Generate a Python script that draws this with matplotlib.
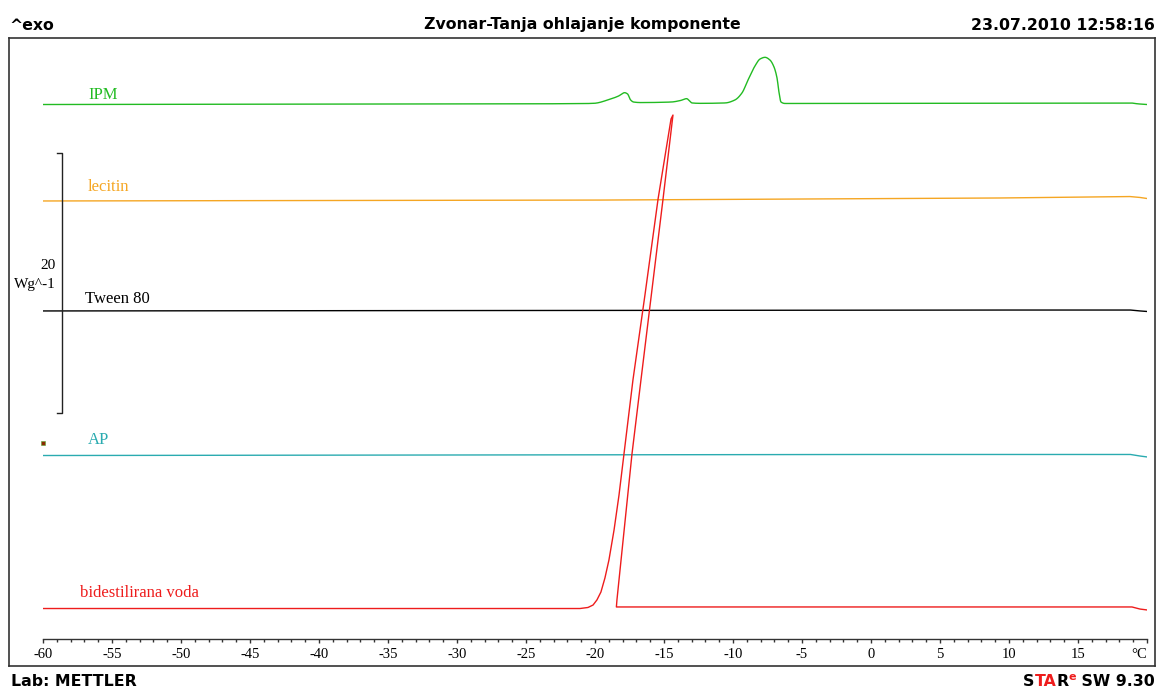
import matplotlib.pyplot as plt
import numpy as np

# DSC ohlajanje - krivulje (temperatura v °C, toplotni tok v W/g, ze zamaknjeno)
ipm_T = [-60, -30, -21, -20.1, -18.88, -18.30, -17.85, -17.64, -17.42, -17.2, -16.7,
         -14.5, -13.8, -13.36, -13.14, -12.97, -12.35, -10.58, -9.86, -9.35, -8.91,
         -8.41, -8.04, -7.68, -7.32, -7.03, -6.81, -6.67, -6.52, -6.23, 2.1, 18.77,
         19.35, 20]
ipm_Y = [38.73, 38.77, 38.80, 38.82, 39.15, 39.38, 39.64, 39.54, 39.08, 38.92, 38.88,
         38.92, 39.04, 39.18, 39.00, 38.85, 38.82, 38.85, 39.08, 39.62, 40.62,
         41.69, 42.23, 42.36, 42.15, 41.62, 40.77, 39.69, 38.92, 38.81, 38.82, 38.85,
         38.78, 38.73]

lecitin_T = [-60, -19.6, 9.35, 18.77, 19.49, 20]
lecitin_Y = [31.31, 31.38, 31.54, 31.65, 31.58, 31.50]

tween_T = [-60, 10, 18.8, 19.5, 20]
tween_Y = [22.85, 22.92, 22.92, 22.85, 22.81]

ap_T = [-60, 0, 18.8, 19.5, 20]
ap_Y = [11.73, 11.81, 11.81, 11.69, 11.62]

voda_T = [20.0, 19.49, 18.91, 10, 0, -10, -18.45, -18.41, -17.32, -16.67, -15.07,
          -14.35, -14.49, -15.43, -16.38, -17.25, -17.90, -18.26, -18.62, -18.99,
          -19.28, -19.57, -19.86, -20.14, -20.51, -21.09, -30, -60]
voda_Y = [-0.15, -0.08, 0.08, 0.08, 0.08, 0.08, 0.08, 0.62, 11.85, 17.54, 31.46,
          37.92, 37.62, 31.46, 24.08, 17.54, 11.85, 8.69, 6.00, 3.69,
          2.31, 1.23, 0.62, 0.23, 0.04, -0.04, -0.04, -0.04]

x_ticks = [-60, -55, -50, -45, -40, -35, -30, -25, -20, -15, -10, -5, 0, 5, 10, 15, 20]
x_labels = ['-60', '-55', '-50', '-45', '-40', '-35', '-30', '-25', '-20', '-15',
            '-10', '-5', '0', '5', '10', '15', '°C']


def pchip(x, y, n=3000):
    # monotona kubicna interpolacija, da so vrhovi okrogli
    x = np.asarray(x, float)
    y = np.asarray(y, float)
    h = np.diff(x)
    d = np.diff(y) / h
    m = np.zeros_like(y)
    m[0], m[-1] = d[0], d[-1]
    for k in range(1, len(x) - 1):
        if d[k - 1] * d[k] > 0:
            w1 = 2 * h[k] + h[k - 1]
            w2 = h[k] + 2 * h[k - 1]
            m[k] = (w1 + w2) / (w1 / d[k - 1] + w2 / d[k])
    xs = np.linspace(x[0], x[-1], n)
    i = np.clip(np.searchsorted(x, xs) - 1, 0, len(x) - 2)
    t = (xs - x[i]) / h[i]
    h00 = 2 * t ** 3 - 3 * t ** 2 + 1
    h10 = t ** 3 - 2 * t ** 2 + t
    h01 = -2 * t ** 3 + 3 * t ** 2
    h11 = t ** 3 - t ** 2
    ys = h00 * y[i] + h10 * h[i] * m[i] + h01 * y[i + 1] + h11 * h[i] * m[i + 1]
    return xs, ys


W, H = 1161, 693
fig = plt.figure(figsize=(W / 100, H / 100), dpi=100)

# okvir
frame = fig.add_axes([9 / W, 1 - 666 / H, (1155 - 9) / W, (666 - 38) / H])
frame.set_xticks([])
frame.set_yticks([])
for s in frame.spines.values():
    s.set_color('#333333')
    s.set_linewidth(1.2)

# os s podatki
ax = fig.add_axes([43 / W, 1 - 639 / H, (1147 - 43) / W, (639 - 38) / H])
ax.patch.set_alpha(0)
ax.set_xlim(-60, 20)
ax.set_ylim(-31 / 13, 570 / 13)
for k in ['top', 'left', 'right']:
    ax.spines[k].set_visible(False)
ax.spines['bottom'].set_color('#333333')
ax.spines['bottom'].set_linewidth(1.0)
ax.set_yticks([])
ax.set_xticks(x_ticks)
ax.set_xticklabels(x_labels, family='Liberation Serif', fontsize=10.5)
ax.get_xticklabels()[-1].set_horizontalalignment('right')
ax.set_xticks(np.arange(-60, 21, 1), minor=True)
ax.tick_params(axis='x', which='major', direction='out', length=3.2, width=1, color='#333333', pad=3)
ax.tick_params(axis='x', which='minor', direction='out', length=1.8, width=1, color='#333333')

c_ipm = '#22bb22'
c_lec = '#f5a623'
c_ap = '#2aabb0'
c_voda = '#ee1c1c'

xs, ys = pchip(ipm_T, ipm_Y)
ax.plot(xs, ys, color=c_ipm, lw=1.0)
ax.plot(lecitin_T, lecitin_Y, color=c_lec, lw=1.0)
ax.plot(tween_T, tween_Y, color='black', lw=1.0)
ax.plot(ap_T, ap_Y, color=c_ap, lw=1.0)
ax.plot(voda_T, voda_Y, color=c_voda, lw=1.0)

lab_kw = dict(family='Liberation Serif', fontsize=12, va='center', ha='left')
ax.text(-56.74, 39.46, 'IPM', color=c_ipm, **lab_kw)
ax.text(-56.74, 32.38, 'lecitin', color=c_lec, **lab_kw)
ax.text(-56.96, 23.77, 'Tween 80', color='black', **lab_kw)
ax.text(-56.74, 12.92, 'AP', color=c_ap, **lab_kw)
ax.text(-57.32, 1.15, 'bidestilirana voda', color=c_voda, **lab_kw)

# merilo 20 W/g
ax.plot([-58.99, -58.62, -58.62, -58.99], [35, 35, 15, 15], color='#222222', lw=1.0)
ax.text(-59.06, 26.38, '20', family='Liberation Serif', fontsize=11, ha='right', va='center')
ax.text(-59.06, 24.92, 'Wg^-1', family='Liberation Serif', fontsize=11, ha='right', va='center')
ax.plot([-60], [12.69], marker='s', ms=2.8, color='#8b2a00', mec='#55aa33', mew=0.4, clip_on=False)

# napisi
hd = dict(family='DejaVu Sans', weight='bold', fontsize=11.3, va='center')
fig.text(9 / W, 1 - 25 / H, '^exo', ha='left', **hd)
fig.text(582 / W, 1 - 25 / H, 'Zvonar-Tanja ohlajanje komponente', ha='center', **hd)
fig.text(1155 / W, 1 - 25 / H, '23.07.2010 12:58:16', ha='right', **hd)
fig.text(11 / W, 1 - 682 / H, 'Lab: METTLER', ha='left', **hd)

r = fig.canvas.get_renderer()
x = 1155
parts = [(' SW 9.30', 'black', 0), ('e', c_voda, 1), ('R', 'black', 0), ('TA', c_voda, 0), ('S', 'black', 0)]
for txt, col, sup in parts:
    kw = dict(hd)
    y = 682
    if sup:
        kw['fontsize'] = 8
        y = 677
    t = fig.text(x / W, 1 - y / H, txt, ha='right', color=col, **kw)
    bb = t.get_window_extent(renderer=r)
    x = bb.x0

fig.savefig('out.png', dpi=100)
